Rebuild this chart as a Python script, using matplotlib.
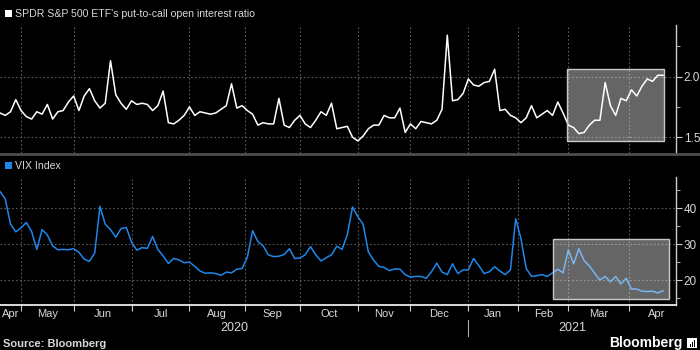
import numpy as np
import pandas as pd
import matplotlib.pyplot as plt
from matplotlib.patches import Rectangle

plt.rcParams['font.family'] = ['Liberation Sans', 'DejaVu Sans']

# trading calendar (NYSE holidays in the window)
holidays = ['2020-04-10', '2020-05-25', '2020-07-03', '2020-09-07', '2020-11-26',
            '2020-12-25', '2021-01-01', '2021-01-18', '2021-02-15', '2021-04-02']
first_day = '2020-04-21'

# SPDR S&P 500 ETF put-to-call open interest ratio, every 2nd trading day
pcr = [1.70, 1.68, 1.71, 1.81, 1.72, 1.67, 1.65, 1.71, 1.69, 1.77,
       1.65, 1.71, 1.72, 1.79, 1.84, 1.72, 1.84, 1.90, 1.80, 1.74,
       1.78, 2.13, 1.85, 1.78, 1.73, 1.80, 1.77, 1.78, 1.77, 1.72,
       1.76, 1.88, 1.62, 1.61, 1.64, 1.68, 1.75, 1.68, 1.71, 1.70,
       1.69, 1.70, 1.73, 1.76, 1.94, 1.74, 1.76, 1.72, 1.69, 1.60,
       1.62, 1.61, 1.61, 1.82, 1.60, 1.58, 1.64, 1.68, 1.61, 1.58,
       1.64, 1.71, 1.68, 1.78, 1.57, 1.58, 1.59, 1.50, 1.47, 1.51,
       1.57, 1.60, 1.60, 1.68, 1.66, 1.66, 1.74, 1.54, 1.61, 1.57,
       1.63, 1.62, 1.61, 1.64, 1.73, 2.34, 1.80, 1.81, 1.86, 1.98,
       1.93, 1.92, 1.95, 1.96, 2.06, 1.72, 1.73, 1.68, 1.66, 1.62,
       1.66, 1.76, 1.66, 1.69, 1.72, 1.68, 1.79, 1.70, 1.60, 1.58,
       1.53, 1.54, 1.60, 1.64, 1.64, 1.95, 1.76, 1.68, 1.82, 1.80,
       1.89, 1.84, 1.92, 1.98, 1.96, 2.01, 2.01]

# VIX Index, same days
vix = [44.6, 42.5, 35.5, 33.4, 34.5, 36.0, 33.5, 28.5, 34.0, 32.5,
       29.5, 28.4, 28.5, 28.4, 28.7, 27.7, 25.8, 25.2, 27.5, 40.5,
       35.5, 34.0, 31.9, 34.3, 34.6, 30.5, 28.3, 29.0, 28.8, 32.1,
       28.5, 26.7, 24.6, 26.0, 25.6, 24.8, 25.0, 23.8, 22.5, 21.9,
       22.0, 21.8, 21.3, 22.2, 22.0, 23.0, 23.2, 26.3, 33.7, 30.7,
       29.5, 27.0, 26.5, 26.6, 27.1, 28.7, 26.0, 26.1, 27.0, 29.3,
       27.0, 25.3, 26.2, 27.0, 29.4, 28.5, 32.6, 40.3, 37.6, 35.5,
       27.8, 25.5, 23.8, 23.5, 22.6, 23.1, 23.0, 21.5, 20.8, 21.0,
       21.0, 20.5, 22.3, 24.7, 22.2, 21.5, 24.5, 21.8, 22.8, 22.8,
       26.0, 24.0, 21.8, 22.3, 23.7, 22.5, 21.5, 22.8, 37.0, 31.5,
       23.2, 21.0, 21.2, 21.5, 21.0, 22.0, 23.0, 22.0, 28.4, 24.5,
       28.7, 25.4, 23.9, 21.9, 20.0, 21.0, 19.5, 21.0, 18.9, 20.5,
       17.5, 17.5, 16.9, 16.8, 16.9, 16.4, 17.0]

cal = pd.bdate_range('2020-04-01', '2021-04-30', freq='C', holidays=holidays)
start = cal.get_loc(pd.Timestamp(first_day))
pos = pd.Series(np.arange(len(cal)) - start, index=cal)
dates = cal[start::2][:len(pcr)]
x = pos[dates].values

month_start = pos.groupby(cal.to_period('M')).first()
ends = np.append(month_start.values[1:], len(cal) - start)
mids = (np.maximum(month_start.values, 0) + ends) / 2
month_lbl = month_start.index.strftime('%b')
grid_x = month_start.values[1:]
jan = pos[pd.Timestamp('2021-01-04')]

bg = 'black'
grid_c = '#5a5a5a'
txt = '#d8d8d8'
blue = '#1f86ea'

fig = plt.figure(figsize=(7, 3.5), dpi=100, facecolor=bg)
ax1 = fig.add_axes([0, 0.563, 0.966, 0.366], facecolor=bg)
ax2 = fig.add_axes([0, 0.129, 0.966, 0.366], facecolor=bg)

ax1.plot(x, pcr, color='white', lw=1.1, zorder=3)
ax2.plot(x, vix, color=blue, lw=1.1, zorder=3)

ax1.set_ylim(1.371, 2.425)
ax2.set_ylim(13.1, 48.7)
ax1.set_yticks([1.5, 2.0], ['1.5', '2.0'])
ax1.set_yticks([1.75, 2.25], minor=True)
ax2.set_yticks([20, 30, 40], ['20', '30', '40'])
ax2.set_yticks([15, 25, 35, 45], minor=True)

for ax in (ax1, ax2):
    ax.set_xlim(0, 257)
    for s in ('top', 'left', 'bottom'):
        ax.spines[s].set_visible(False)
    ax.spines['right'].set_color('#cccccc')
    ax.spines['right'].set_linewidth(1)
    ax.set_xticks(grid_x, minor=True)
    ax.grid(which='minor', axis='x', color=grid_c, ls=(0, (1.5, 2)), lw=0.8)
    ax.grid(which='major', axis='y', color=grid_c, ls=(0, (1.5, 2)), lw=0.8)
    ax.yaxis.tick_right()
    ax.tick_params(axis='y', which='both', direction='out', color='#cccccc',
                   labelcolor=txt, labelsize=8.5, pad=1.5)
    ax.tick_params(axis='y', which='major', length=4)
    ax.tick_params(axis='y', which='minor', length=3)

ax1.tick_params(axis='x', which='both', length=0, labelbottom=False)
ax2.spines['bottom'].set_visible(True)
ax2.spines['bottom'].set_color('white')
ax2.spines['bottom'].set_linewidth(1.2)
ax2.set_xticks(mids, month_lbl)
ax2.tick_params(axis='x', which='major', length=0, pad=3, labelsize=8, labelcolor=txt)
ax2.tick_params(axis='x', which='minor', length=4, color='#cccccc', width=0.8)

# highlight boxes
ax1.add_patch(Rectangle((215.6, 1.47), 36.9, 0.593, facecolor='white', alpha=0.4,
                        edgecolor='none', zorder=4))
ax1.add_patch(Rectangle((215.6, 1.47), 36.9, 0.593, facecolor='none',
                        edgecolor='#c8c8c8', lw=1, zorder=5))
ax2.add_patch(Rectangle((210.3, 14.8), 44.1, 16.7, facecolor='white', alpha=0.4,
                        edgecolor='none', zorder=4))
ax2.add_patch(Rectangle((210.3, 14.8), 44.1, 16.7, facecolor='none',
                        edgecolor='#c8c8c8', lw=1, zorder=5))

# legends / titles
fig.patches.append(Rectangle((5 / 700, 1 - 17 / 350), 7 / 700, 7 / 350,
                             transform=fig.transFigure, facecolor='white', edgecolor='none'))
fig.text(15 / 700, 1 - 14 / 350, "SPDR S&P 500 ETF's put-to-call open interest ratio",
         color=txt, fontsize=7.6, va='center', ha='left')
fig.patches.append(Rectangle((5 / 700, 1 - 169 / 350), 7 / 700, 7 / 350,
                             transform=fig.transFigure, facecolor=blue, edgecolor='none'))
fig.text(15 / 700, 1 - 166 / 350, 'VIX Index', color=txt, fontsize=7.6,
         va='center', ha='left')

# panel separator
fig.add_artist(plt.Line2D([0, 1], [1 - 154 / 350] * 2, color='#4d4d4d', lw=2,
                          transform=fig.transFigure))

# years
xfrac = 0.966 / 257
fig.text(jan / 2 * xfrac, 1 - 328 / 350, '2020', color=txt, fontsize=9,
         ha='center', va='center')
fig.text((jan + 257) / 2 * xfrac, 1 - 328 / 350, '2021', color=txt, fontsize=9,
         ha='center', va='center')
fig.add_artist(plt.Line2D([jan * xfrac] * 2, [1 - 320 / 350, 1 - 336 / 350],
                          color='#aaaaaa', lw=0.8, transform=fig.transFigure))

fig.text(3 / 700, 1 - 344 / 350, 'Source: Bloomberg', color=txt, fontsize=8,
         fontweight='bold', va='center', ha='left')
fig.text(682 / 700, 1 - 343 / 350, 'Bloomberg', color='white', fontsize=10,
         fontweight='bold', va='center', ha='right')
fig.patches.append(Rectangle((687 / 700, 1 - 348 / 350), 10 / 700, 10 / 350,
                             transform=fig.transFigure, facecolor='white', edgecolor='none'))
for bx, bh in ((689.5, 3), (691.5, 5), (693.5, 7)):
    fig.patches.append(Rectangle((bx / 700, 1 - 346.5 / 350), 1.2 / 700, bh / 350,
                                 transform=fig.transFigure, facecolor='black',
                                 edgecolor='none'))

fig.savefig('out.png', dpi=100, facecolor=bg)
